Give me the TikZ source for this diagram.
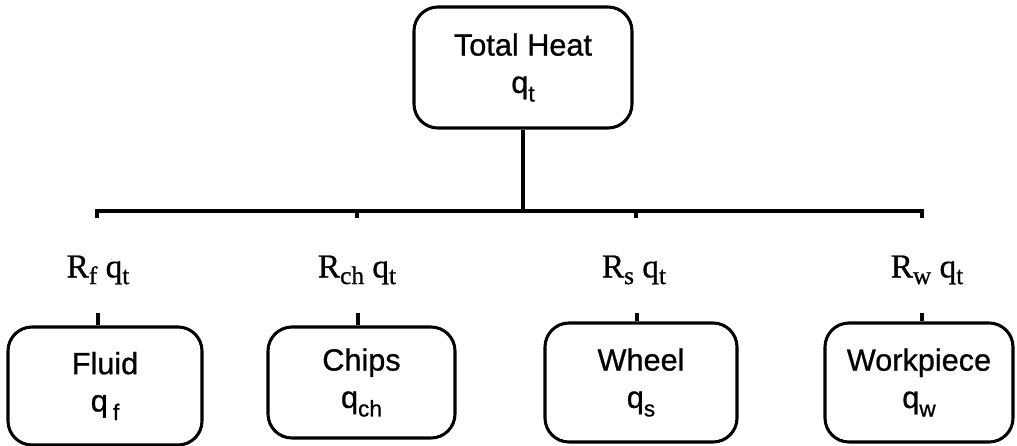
\documentclass[tikz,border=0pt]{standalone}
\usepackage{fontspec}
\setmainfont{Liberation Sans}[FakeBold=1]
\newfontfamily\boxfont{Liberation Sans}[FakeBold=0.8]
\newfontfamily\labfont{Liberation Serif}[FakeBold=0.8]
\newcommand\bsub[1]{\raisebox{-0.28em}{\fontsize{17}{17}\selectfont #1}}
\newcommand\lsub[1]{\raisebox{-0.2em}{\fontsize{19}{19}\selectfont #1}}
\begin{document}
\begin{tikzpicture}[x=0.75pt,y=-0.75pt,
  box/.style={draw,line width=2.3pt,rounded corners=18pt,align=center,
    font=\boxfont\fontsize{23}{28}\selectfont,inner sep=0pt},
  lab/.style={font=\labfont\fontsize{25}{25}\selectfont,inner sep=0pt},
  conn/.style={line width=2.3pt}]
\useasboundingbox (0,0) rectangle (1017,446);
\node[box,minimum width=163.5pt,minimum height=90.75pt] (top) at (523,67.5) {Total Heat\\q\bsub{t}};
\node[box,minimum width=145.5pt,minimum height=88.5pt] (fluid) at (105,386) {Fluid\\q\,\bsub{f}};
\node[box,minimum width=140.25pt,minimum height=83.25pt] (chips) at (361.5,382.5) {Chips\\q\bsub{ch}};
\node[box,minimum width=144pt,minimum height=89.25pt] (wheel) at (641,382.5) {Wheel\\q\bsub{s}};
\node[box,minimum width=141pt,minimum height=89.25pt] (work) at (919,382.5) {Workpiece\\q\bsub{w}};
\coordinate (hf) at (97,211);
\coordinate (hw) at (922,211);
\coordinate (tf) at (97,218);
\coordinate (tc) at (357,218);
\coordinate (ts) at (636,218);
\coordinate (tw) at (922,218);
\coordinate (bf) at (98,313);
\coordinate (bc) at (358,313);
\coordinate (bs) at (637,313);
\coordinate (bw) at (922,313);
\node[lab] (lf) at (98,270) {R\lsub{f} q\lsub{t}};
\node[lab] (lc) at (357,270) {R\lsub{ch} q\lsub{t}};
\node[lab] (ls) at (634,270) {R\lsub{s} q\lsub{t}};
\node[lab] (lw) at (927,270) {R\lsub{w} q\lsub{t}};
\draw[conn] (top.south) -- (top.south |- hf);
\draw[conn] (tf) -- (hf) -- (hw) -- (tw);
\draw[conn] (tc) -- (tc |- hf);
\draw[conn] (ts) -- (ts |- hf);
\draw[conn] (bf) -- (bf |- fluid.north);
\draw[conn] (bc) -- (bc |- chips.north);
\draw[conn] (bs) -- (bs |- wheel.north);
\draw[conn] (bw) -- (bw |- work.north);
\end{tikzpicture}
\end{document}
